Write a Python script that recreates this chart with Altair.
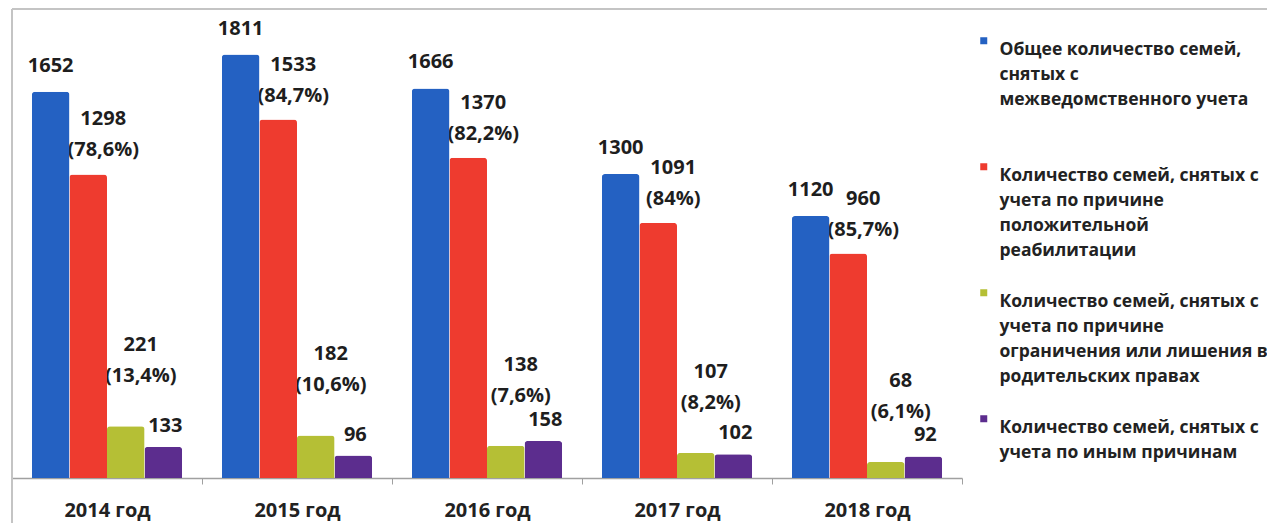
import altair as alt
import pandas as pd

years = ["2014 год", "2015 год", "2016 год", "2017 год", "2018 год"]

series = [
    "Общее количество семей,\nснятых с\nмежведомственного учета\n ",
    "Количество семей, снятых с\nучета по причине\nположительной\nреабилитации",
    "Количество семей, снятых с\nучета по причине\nограничения или лишения в\nродительских правах",
    "Количество семей, снятых с\nучета по иным причинам",
]
colors = ["#2461C2", "#EE3B2F", "#B5BF35", "#5C2D8E"]

total = [1652, 1811, 1666, 1300, 1120]
positive = [1298, 1533, 1370, 1091, 960]
positive_pct = ["78,6%", "84,7%", "82,2%", "84%", "85,7%"]
deprived = [221, 182, 138, 107, 68]
deprived_pct = ["13,4%", "10,6%", "7,6%", "8,2%", "6,1%"]
other = [133, 96, 158, 102, 92]

rows = []
for i, yr in enumerate(years):
    rows.append(dict(year=yr, series=series[0], k=0, value=total[i], label=str(total[i])))
    rows.append(dict(year=yr, series=series[1], k=1, value=positive[i],
                     label=f"{positive[i]}\n({positive_pct[i]})"))
    rows.append(dict(year=yr, series=series[2], k=2, value=deprived[i],
                     label=f"{deprived[i]}\n({deprived_pct[i]})"))
    rows.append(dict(year=yr, series=series[3], k=3, value=other[i], label=str(other[i])))
df = pd.DataFrame(rows)

FONT = "Open Sans"

base = alt.Chart(df).encode(
    x=alt.X(
        "year:N",
        sort=years,
        scale=alt.Scale(paddingInner=0, paddingOuter=0),
        axis=alt.Axis(
            title=None, labelAngle=0, tickBand="extent", tickSize=6,
            tickColor="#A0A0A0", domainColor="#A0A0A0", domainWidth=1.5,
            labelFont=FONT, labelFontSize=20, labelFontWeight="bold",
            labelColor="#222222", labelPadding=16, grid=False,
        ),
    ),
    xOffset=alt.XOffset("series:N", sort=series,
                        scale=alt.Scale(paddingInner=0, paddingOuter=0.53)),
    y=alt.Y("value:Q", scale=alt.Scale(domain=[0, 2010], nice=False), axis=None),
)

bars = base.mark_bar(cornerRadiusTopLeft=3, cornerRadiusTopRight=3).encode(
    color=alt.Color(
        "series:N",
        scale=alt.Scale(domain=series, range=colors),
        legend=alt.Legend(
            title=None, orient="none", legendX=963, legendY=24,
            symbolType="square", symbolSize=49, symbolStrokeWidth=0,
            labelFont=FONT, labelFontSize=17.5, labelFontWeight="bold",
            labelColor="#222222", labelOffset=7, labelLimit=400,
            rowPadding=24, labelBaseline="top", padding=0,
            labelExpr="split(datum.label, '\\n')",
        ),
    )
)

text_common = dict(font=FONT, fontSize=20, fontWeight="bold", color="#1E1E1E",
                   lineBreak="\n", lineHeight=31, baseline="bottom", align="center")

t_blue = base.transform_filter(alt.datum.k == 0).mark_text(dx=0, dy=-16, **text_common).encode(text="label:N")
t_red = base.transform_filter(alt.datum.k == 1).mark_text(dx=15, dy=-45, **text_common).encode(text="label:N")
t_green = base.transform_filter(alt.datum.k == 2).mark_text(dx=15, dy=-71, **text_common).encode(text="label:N")
t_purple = base.transform_filter(alt.datum.k == 3).mark_text(dx=2, dy=-11, **text_common).encode(text="label:N")

frame_df = pd.DataFrame({"f": [0]})
top_line = alt.Chart(frame_df).mark_rule(color="#C4C4C4", strokeWidth=2).encode(
    x=alt.value(0), x2=alt.value(1263), y=alt.value(1))
left_line = alt.Chart(frame_df).mark_rule(color="#C4C4C4", strokeWidth=2).encode(
    x=alt.value(0), y=alt.value(1), y2=alt.value(515))

chart = alt.layer(top_line, left_line, t_blue, t_red, t_green, t_purple, bars).properties(
    width=950, height=470,
    padding={"left": 4, "top": 0, "right": 305, "bottom": 45},
    autosize=alt.AutoSizeParams(type="none"),
).configure(
    view=alt.ViewConfig(stroke="transparent", strokeWidth=0),
    style={"guide-label": {"lineHeight": 25}},
)

chart.save("out.html", embed_options={"renderer": "svg", "actions": False})
